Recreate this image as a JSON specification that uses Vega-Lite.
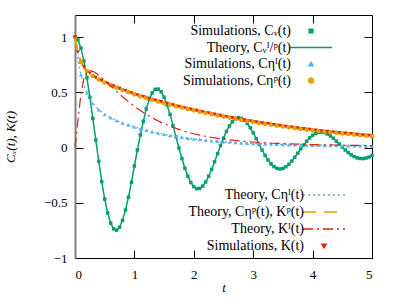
{
  "$schema": "https://vega.github.io/schema/vega-lite/v6.json",
  "width": 297,
  "height": 243,
  "autosize": "none",
  "padding": {"left": 75, "top": 15, "right": 28, "bottom": 42},
  "background": "white",
  "config": {
    "font": "Liberation Serif",
    "view": {"stroke": "black", "strokeWidth": 1},
    "axis": {"grid": false, "domain": false, "labelFont": "Liberation Serif", "labelFontSize": 13, "labelColor": "black", "tickColor": "black", "tickSize": -8, "tickWidth": 1, "titleFont": "Liberation Serif", "titleFontSize": 13, "titleFontStyle": "italic", "titleFontWeight": "normal", "titleColor": "black"}
  },
  "datasets": {
    "theory": [
      {"t":0,"cv":1,"ci":1,"cp":1,"ki":0},
      {"t":0.05,"cv":0.974,"ci":0.79,"cp":0.86,"ki":0.25},
      {"t":0.1,"cv":0.9,"ci":0.66,"cp":0.775,"ki":0.48},
      {"t":0.15,"cv":0.784,"ci":0.565,"cp":0.725,"ki":0.625},
      {"t":0.2,"cv":0.633,"ci":0.495,"cp":0.692,"ki":0.685},
      {"t":0.25,"cv":0.456,"ci":0.44,"cp":0.668,"ki":0.697},
      {"t":0.3,"cv":0.265,"ci":0.4,"cp":0.648,"ki":0.69},
      {"t":0.35,"cv":0.069,"ci":0.368,"cp":0.631,"ki":0.675},
      {"t":0.4,"cv":-0.124,"ci":0.342,"cp":0.616,"ki":0.655},
      {"t":0.45,"cv":-0.308,"ci":0.32,"cp":0.602,"ki":0.632},
      {"t":0.5,"cv":-0.466,"ci":0.3,"cp":0.589,"ki":0.608},
      {"t":0.55,"cv":-0.593,"ci":0.284,"cp":0.577,"ki":0.583},
      {"t":0.6,"cv":-0.684,"ci":0.27,"cp":0.565,"ki":0.558},
      {"t":0.65,"cv":-0.736,"ci":0.257,"cp":0.553,"ki":0.533},
      {"t":0.7,"cv":-0.748,"ci":0.245,"cp":0.542,"ki":0.508},
      {"t":0.75,"cv":-0.721,"ci":0.234,"cp":0.531,"ki":0.484},
      {"t":0.8,"cv":-0.659,"ci":0.223,"cp":0.521,"ki":0.46},
      {"t":0.85,"cv":-0.566,"ci":0.213,"cp":0.511,"ki":0.437},
      {"t":0.9,"cv":-0.449,"ci":0.204,"cp":0.501,"ki":0.415},
      {"t":0.95,"cv":-0.314,"ci":0.195,"cp":0.491,"ki":0.394},
      {"t":1.0,"cv":-0.167,"ci":0.186,"cp":0.482,"ki":0.374},
      {"t":1.05,"cv":-0.022,"ci":0.178,"cp":0.473,"ki":0.354},
      {"t":1.1,"cv":0.114,"ci":0.17,"cp":0.465,"ki":0.336},
      {"t":1.15,"cv":0.237,"ci":0.163,"cp":0.457,"ki":0.318},
      {"t":1.2,"cv":0.35,"ci":0.156,"cp":0.449,"ki":0.301},
      {"t":1.25,"cv":0.436,"ci":0.149,"cp":0.441,"ki":0.285},
      {"t":1.3,"cv":0.495,"ci":0.143,"cp":0.433,"ki":0.27},
      {"t":1.35,"cv":0.527,"ci":0.137,"cp":0.425,"ki":0.255},
      {"t":1.4,"cv":0.529,"ci":0.131,"cp":0.418,"ki":0.241},
      {"t":1.45,"cv":0.505,"ci":0.125,"cp":0.41,"ki":0.228},
      {"t":1.5,"cv":0.456,"ci":0.12,"cp":0.403,"ki":0.216},
      {"t":1.55,"cv":0.386,"ci":0.115,"cp":0.396,"ki":0.204},
      {"t":1.6,"cv":0.3,"ci":0.11,"cp":0.389,"ki":0.193},
      {"t":1.65,"cv":0.198,"ci":0.105,"cp":0.382,"ki":0.183},
      {"t":1.7,"cv":0.097,"ci":0.101,"cp":0.375,"ki":0.173},
      {"t":1.75,"cv":-0.004,"ci":0.097,"cp":0.368,"ki":0.164},
      {"t":1.8,"cv":-0.1,"ci":0.093,"cp":0.362,"ki":0.155},
      {"t":1.85,"cv":-0.187,"ci":0.089,"cp":0.355,"ki":0.147},
      {"t":1.9,"cv":-0.26,"ci":0.085,"cp":0.349,"ki":0.139},
      {"t":1.95,"cv":-0.316,"ci":0.082,"cp":0.343,"ki":0.132},
      {"t":2.0,"cv":-0.354,"ci":0.078,"cp":0.337,"ki":0.125},
      {"t":2.05,"cv":-0.372,"ci":0.075,"cp":0.331,"ki":0.119},
      {"t":2.1,"cv":-0.37,"ci":0.072,"cp":0.325,"ki":0.113},
      {"t":2.15,"cv":-0.349,"ci":0.069,"cp":0.319,"ki":0.107},
      {"t":2.2,"cv":-0.312,"ci":0.066,"cp":0.313,"ki":0.102},
      {"t":2.25,"cv":-0.26,"ci":0.064,"cp":0.308,"ki":0.097},
      {"t":2.3,"cv":-0.198,"ci":0.061,"cp":0.302,"ki":0.092},
      {"t":2.35,"cv":-0.128,"ci":0.059,"cp":0.297,"ki":0.088},
      {"t":2.4,"cv":-0.055,"ci":0.057,"cp":0.291,"ki":0.084},
      {"t":2.45,"cv":0.017,"ci":0.055,"cp":0.286,"ki":0.08},
      {"t":2.5,"cv":0.085,"ci":0.053,"cp":0.281,"ki":0.076},
      {"t":2.55,"cv":0.146,"ci":0.051,"cp":0.276,"ki":0.073},
      {"t":2.6,"cv":0.196,"ci":0.049,"cp":0.271,"ki":0.07},
      {"t":2.65,"cv":0.234,"ci":0.047,"cp":0.266,"ki":0.067},
      {"t":2.7,"cv":0.259,"ci":0.045,"cp":0.261,"ki":0.064},
      {"t":2.75,"cv":0.269,"ci":0.044,"cp":0.256,"ki":0.061},
      {"t":2.8,"cv":0.264,"ci":0.042,"cp":0.251,"ki":0.059},
      {"t":2.85,"cv":0.247,"ci":0.041,"cp":0.246,"ki":0.056},
      {"t":2.9,"cv":0.218,"ci":0.039,"cp":0.241,"ki":0.054},
      {"t":2.95,"cv":0.179,"ci":0.038,"cp":0.237,"ki":0.052},
      {"t":3.0,"cv":0.133,"ci":0.037,"cp":0.232,"ki":0.05},
      {"t":3.05,"cv":0.082,"ci":0.036,"cp":0.228,"ki":0.048},
      {"t":3.1,"cv":0.029,"ci":0.035,"cp":0.223,"ki":0.046},
      {"t":3.15,"cv":-0.023,"ci":0.034,"cp":0.219,"ki":0.045},
      {"t":3.2,"cv":-0.071,"ci":0.033,"cp":0.215,"ki":0.043},
      {"t":3.25,"cv":-0.113,"ci":0.032,"cp":0.211,"ki":0.042},
      {"t":3.3,"cv":-0.148,"ci":0.031,"cp":0.207,"ki":0.04},
      {"t":3.35,"cv":-0.173,"ci":0.03,"cp":0.203,"ki":0.039},
      {"t":3.4,"cv":-0.188,"ci":0.029,"cp":0.199,"ki":0.038},
      {"t":3.45,"cv":-0.194,"ci":0.028,"cp":0.195,"ki":0.037},
      {"t":3.5,"cv":-0.189,"ci":0.027,"cp":0.191,"ki":0.036},
      {"t":3.55,"cv":-0.174,"ci":0.027,"cp":0.187,"ki":0.035},
      {"t":3.6,"cv":-0.152,"ci":0.026,"cp":0.183,"ki":0.034},
      {"t":3.65,"cv":-0.122,"ci":0.025,"cp":0.18,"ki":0.033},
      {"t":3.7,"cv":-0.088,"ci":0.025,"cp":0.176,"ki":0.032},
      {"t":3.75,"cv":-0.051,"ci":0.024,"cp":0.173,"ki":0.031},
      {"t":3.8,"cv":-0.013,"ci":0.023,"cp":0.169,"ki":0.03},
      {"t":3.85,"cv":0.023,"ci":0.023,"cp":0.166,"ki":0.029},
      {"t":3.9,"cv":0.057,"ci":0.022,"cp":0.163,"ki":0.029},
      {"t":3.95,"cv":0.087,"ci":0.022,"cp":0.159,"ki":0.028},
      {"t":4.0,"cv":0.11,"ci":0.021,"cp":0.156,"ki":0.027},
      {"t":4.05,"cv":0.127,"ci":0.021,"cp":0.153,"ki":0.027},
      {"t":4.1,"cv":0.137,"ci":0.02,"cp":0.15,"ki":0.026},
      {"t":4.15,"cv":0.139,"ci":0.02,"cp":0.147,"ki":0.025},
      {"t":4.2,"cv":0.134,"ci":0.019,"cp":0.144,"ki":0.025},
      {"t":4.25,"cv":0.123,"ci":0.019,"cp":0.141,"ki":0.024},
      {"t":4.3,"cv":0.105,"ci":0.018,"cp":0.138,"ki":0.024},
      {"t":4.35,"cv":0.084,"ci":0.018,"cp":0.135,"ki":0.023},
      {"t":4.4,"cv":0.058,"ci":0.018,"cp":0.133,"ki":0.023},
      {"t":4.45,"cv":0.032,"ci":0.017,"cp":0.13,"ki":0.022},
      {"t":4.5,"cv":0.004,"ci":0.017,"cp":0.127,"ki":0.022},
      {"t":4.55,"cv":-0.022,"ci":0.016,"cp":0.125,"ki":0.021},
      {"t":4.6,"cv":-0.046,"ci":0.016,"cp":0.122,"ki":0.021},
      {"t":4.65,"cv":-0.066,"ci":0.016,"cp":0.12,"ki":0.02},
      {"t":4.7,"cv":-0.082,"ci":0.015,"cp":0.117,"ki":0.02},
      {"t":4.75,"cv":-0.094,"ci":0.015,"cp":0.115,"ki":0.02},
      {"t":4.8,"cv":-0.099,"ci":0.015,"cp":0.112,"ki":0.019},
      {"t":4.85,"cv":-0.1,"ci":0.014,"cp":0.11,"ki":0.019},
      {"t":4.9,"cv":-0.095,"ci":0.014,"cp":0.108,"ki":0.018},
      {"t":4.95,"cv":-0.086,"ci":0.014,"cp":0.105,"ki":0.018},
      {"t":5.0,"cv":-0.073,"ci":0.013,"cp":0.103,"ki":0.018}
    ],
    "simC": [
      {"t":0,"ci":1,"cp":1},{"t":0.1,"ci":0.66,"cp":0.775},{"t":0.2,"ci":0.495,"cp":0.692},{"t":0.3,"ci":0.4,"cp":0.648},
      {"t":0.4,"ci":0.342,"cp":0.616},{"t":0.5,"ci":0.3,"cp":0.589},{"t":0.6,"ci":0.27,"cp":0.565},{"t":0.7,"ci":0.245,"cp":0.542},
      {"t":0.8,"ci":0.223,"cp":0.521},{"t":0.9,"ci":0.204,"cp":0.501},{"t":1.0,"ci":0.186,"cp":0.482},{"t":1.1,"ci":0.17,"cp":0.465},
      {"t":1.2,"ci":0.156,"cp":0.449},{"t":1.3,"ci":0.143,"cp":0.433},{"t":1.4,"ci":0.131,"cp":0.418},{"t":1.5,"ci":0.12,"cp":0.403},
      {"t":1.6,"ci":0.11,"cp":0.389},{"t":1.7,"ci":0.101,"cp":0.375},{"t":1.8,"ci":0.093,"cp":0.362},{"t":1.9,"ci":0.085,"cp":0.349},
      {"t":2.0,"ci":0.078,"cp":0.337},{"t":2.1,"ci":0.072,"cp":0.325},{"t":2.2,"ci":0.066,"cp":0.313},{"t":2.3,"ci":0.061,"cp":0.302},
      {"t":2.4,"ci":0.057,"cp":0.291},{"t":2.5,"ci":0.053,"cp":0.281},{"t":2.6,"ci":0.049,"cp":0.271},{"t":2.7,"ci":0.045,"cp":0.261},
      {"t":2.8,"ci":0.042,"cp":0.251},{"t":2.9,"ci":0.039,"cp":0.241},{"t":3.0,"ci":0.037,"cp":0.232},{"t":3.1,"ci":0.035,"cp":0.223},
      {"t":3.2,"ci":0.033,"cp":0.215},{"t":3.3,"ci":0.031,"cp":0.207},{"t":3.4,"ci":0.029,"cp":0.199},{"t":3.5,"ci":0.027,"cp":0.191},
      {"t":3.6,"ci":0.026,"cp":0.183},{"t":3.7,"ci":0.025,"cp":0.176},{"t":3.8,"ci":0.023,"cp":0.169},{"t":3.9,"ci":0.022,"cp":0.163},
      {"t":4.0,"ci":0.021,"cp":0.156},{"t":4.1,"ci":0.02,"cp":0.15},{"t":4.2,"ci":0.019,"cp":0.144},{"t":4.3,"ci":0.018,"cp":0.138},
      {"t":4.4,"ci":0.018,"cp":0.133},{"t":4.5,"ci":0.017,"cp":0.127},{"t":4.6,"ci":0.016,"cp":0.122},{"t":4.7,"ci":0.015,"cp":0.117},
      {"t":4.8,"ci":0.015,"cp":0.112},{"t":4.9,"ci":0.014,"cp":0.108},{"t":5.0,"ci":0.013,"cp":0.103}
    ],
    "simK": [
      {"t":0,"k":1},{"t":0.05,"k":0.865},{"t":0.15,"k":0.73},{"t":0.25,"k":0.672},{"t":0.35,"k":0.635},{"t":0.45,"k":0.606},
      {"t":0.55,"k":0.581},{"t":0.65,"k":0.557},{"t":0.75,"k":0.535},{"t":0.85,"k":0.515},{"t":0.95,"k":0.495},{"t":1.05,"k":0.477},
      {"t":1.15,"k":0.461},{"t":1.25,"k":0.445},{"t":1.35,"k":0.429},{"t":1.45,"k":0.414},{"t":1.55,"k":0.4},{"t":1.65,"k":0.386},
      {"t":1.75,"k":0.372},{"t":1.85,"k":0.359},{"t":1.95,"k":0.347},{"t":2.05,"k":0.335},{"t":2.15,"k":0.323},{"t":2.25,"k":0.312},
      {"t":2.35,"k":0.301},{"t":2.45,"k":0.29},{"t":2.55,"k":0.28},{"t":2.65,"k":0.27},{"t":2.75,"k":0.26},{"t":2.85,"k":0.25},
      {"t":2.95,"k":0.241},{"t":3.05,"k":0.232},{"t":3.15,"k":0.223},{"t":3.25,"k":0.215},{"t":3.35,"k":0.207},{"t":3.45,"k":0.199},
      {"t":3.55,"k":0.191},{"t":3.65,"k":0.184},{"t":3.75,"k":0.177},{"t":3.85,"k":0.17},{"t":3.95,"k":0.163},{"t":4.05,"k":0.157},
      {"t":4.15,"k":0.151},{"t":4.25,"k":0.145},{"t":4.35,"k":0.139},{"t":4.45,"k":0.134},{"t":4.55,"k":0.129},{"t":4.65,"k":0.124},
      {"t":4.75,"k":0.119},{"t":4.85,"k":0.114},{"t":4.95,"k":0.109}
    ]
  },
  "resolve": {"scale": {"color": "independent"}, "axis": {"x": "independent", "y": "independent"}},
  "layer": [
    {
      "layer": [
        {
          "data": {"name": "theory"},
          "mark": {"type": "line", "strokeWidth": 1.5},
          "encoding": {
            "x": {"field": "t", "type": "quantitative", "title": "t", "scale": {"domain": [0, 5], "nice": false, "zero": false},
                  "axis": {"orient": "bottom", "values": [0, 1, 2, 3, 4, 5], "format": "d", "labelPadding": 18, "titlePadding": 0, "labelFont": "Liberation Serif", "labelFontSize": 13, "titleFont": "Liberation Serif"}},
            "y": {"field": "cv", "type": "quantitative", "title": "Cₓ(t), K(t)", "scale": {"domain": [-1, 1.2], "nice": false, "zero": false},
                  "axis": {"orient": "left", "values": [-1, -0.5, 0, 0.5, 1], "format": "~g", "labelPadding": 16, "titlePadding": 26, "domain": true, "domainColor": "#808080", "domainWidth": 2, "labelFont": "Liberation Serif", "labelFontSize": 13, "titleFont": "Liberation Serif"}},
            "color": {"datum": "Theory, Cᵥᴵ/ᵖ(t)", "type": "nominal",
              "scale": {"domain": ["Simulations, Cᵥ(t)", "Theory, Cᵥᴵ/ᵖ(t)", "Simulations, Cηᴵ(t)", "Simulations, Cηᵖ(t)"], "range": ["#009e73", "#009e73", "#56b4e9", "#e69f00"]},
              "legend": {"orient": "none", "legendX": 236, "legendY": 16, "title": null, "labelFont": "Liberation Serif", "labelFontSize": 14, "labelColor": "black", "labelAlign": "right", "labelOffset": -36, "labelLimit": 300, "symbolSize": 25, "rowPadding": 2.5,
                "labelExpr": "datum.label + '\u2800\u2800'",
                "encode": {"symbols": {"update": {
                  "shape": {"signal": "['square','stroke','triangle-up','circle'][datum.index]"},
                  "size": {"signal": "[14,1764,18,24][datum.index]"},
                  "fill": {"signal": "['#009e73','transparent','#56b4e9','#e69f00'][datum.index]"},
                  "stroke": {"signal": "['transparent','#009e73','transparent','transparent'][datum.index]"},
                  "strokeDash": {"signal": "[[1,0],[1,0],[1,0],[1,0]][datum.index]"},
                  "strokeWidth": {"value": 1.5}, "opacity": {"value": 1}, "fillOpacity": {"value": 1}, "strokeOpacity": {"value": 1}
                }}}}
            }
          }
        },
        {
          "data": {"name": "theory"},
          "mark": {"type": "point", "shape": "square", "filled": true, "size": 12, "opacity": 1},
          "encoding": {
            "x": {"field": "t", "type": "quantitative", "title": "t"},
            "y": {"field": "cv", "type": "quantitative", "title": "Cₓ(t), K(t)"},
            "color": {"datum": "Simulations, Cᵥ(t)", "type": "nominal"}
          }
        },
        {
          "data": {"name": "simC"},
          "mark": {"type": "point", "shape": "triangle-up", "filled": true, "size": 16, "opacity": 1},
          "encoding": {
            "x": {"field": "t", "type": "quantitative", "title": "t"},
            "y": {"field": "ci", "type": "quantitative", "title": "Cₓ(t), K(t)"},
            "color": {"datum": "Simulations, Cηᴵ(t)", "type": "nominal"}
          }
        },
        {
          "data": {"name": "simC"},
          "mark": {"type": "point", "shape": "circle", "filled": true, "size": 22, "opacity": 1},
          "encoding": {
            "x": {"field": "t", "type": "quantitative", "title": "t"},
            "y": {"field": "cp", "type": "quantitative", "title": "Cₓ(t), K(t)"},
            "color": {"datum": "Simulations, Cηᵖ(t)", "type": "nominal"}
          }
        }
      ]
    },
    {
      "layer": [
        {
          "data": {"name": "theory"},
          "mark": {"type": "line", "strokeWidth": 1.5, "strokeDash": [2, 3]},
          "encoding": {
            "x": {"field": "t", "type": "quantitative", "title": null, "scale": {"domain": [0, 5], "nice": false, "zero": false},
                  "axis": {"orient": "top", "values": [0, 1, 2, 3, 4, 5], "labels": false}},
            "y": {"field": "ci", "type": "quantitative", "title": null, "scale": {"domain": [-1, 1.2], "nice": false, "zero": false},
                  "axis": {"orient": "right", "values": [-1, -0.5, 0, 0.5, 1], "labels": false}},
            "color": {"datum": "Theory, Cηᴵ(t)", "type": "nominal",
              "scale": {"domain": ["Theory, Cηᴵ(t)", "Theory, Cηᵖ(t), Kᵖ(t)", "Theory, Kᴵ(t)", "Simulations, K(t)"], "range": ["#56b4e9", "#e69f00", "#e51e10", "#e51e10"]},
              "legend": {"orient": "none", "legendX": 249, "legendY": 180, "title": null, "labelFont": "Liberation Serif", "labelFontSize": 14, "labelColor": "black", "labelAlign": "right", "labelOffset": -36, "labelLimit": 300, "symbolSize": 25, "rowPadding": 3,
                "labelExpr": "datum.label + '\u2800\u2800'",
                "encode": {"symbols": {"update": {
                  "shape": {"signal": "['stroke','stroke','stroke','triangle-down'][datum.index]"},
                  "size": {"signal": "[1764,1764,1764,18][datum.index]"},
                  "fill": {"signal": "['transparent','transparent','transparent','#e51e10'][datum.index]"},
                  "stroke": {"signal": "['#56b4e9','#e69f00','#e51e10','transparent'][datum.index]"},
                  "strokeDash": {"signal": "[[2,3],[13,8],[10,4,2,4],[1,0]][datum.index]"},
                  "strokeWidth": {"value": 1.5}, "opacity": {"value": 1}, "fillOpacity": {"value": 1}, "strokeOpacity": {"value": 1}
                }}}}
            }
          }
        },
        {
          "data": {"name": "theory"},
          "mark": {"type": "line", "strokeWidth": 2, "strokeDash": [13, 8]},
          "encoding": {
            "x": {"field": "t", "type": "quantitative", "title": null},
            "y": {"field": "cp", "type": "quantitative", "title": null},
            "color": {"datum": "Theory, Cηᵖ(t), Kᵖ(t)", "type": "nominal"}
          }
        },
        {
          "data": {"name": "theory"},
          "mark": {"type": "line", "strokeWidth": 1.2, "strokeDash": [10, 4, 2, 4]},
          "encoding": {
            "x": {"field": "t", "type": "quantitative", "title": null},
            "y": {"field": "ki", "type": "quantitative", "title": null},
            "color": {"datum": "Theory, Kᴵ(t)", "type": "nominal"}
          }
        },
        {
          "data": {"name": "simK"},
          "mark": {"type": "point", "shape": "triangle-down", "filled": true, "size": 16, "opacity": 1},
          "encoding": {
            "x": {"field": "t", "type": "quantitative", "title": null},
            "y": {"field": "k", "type": "quantitative", "title": null},
            "color": {"datum": "Simulations, K(t)", "type": "nominal"}
          }
        }
      ]
    }
  ]
}
